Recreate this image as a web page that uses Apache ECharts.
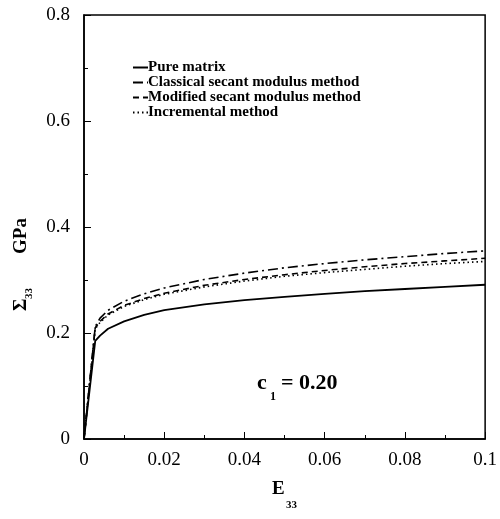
<!DOCTYPE html>
<html>
<head>
<meta charset="utf-8">
<script src="https://cdn.jsdelivr.net/npm/echarts@6/dist/echarts.min.js"></script>
<style>html,body{margin:0;padding:0;background:#fff}#c{width:500px;height:519px}</style>
</head>
<body>
<div id="c"></div>
<script>
const strain = [0, 0.0028, 0.004, 0.006, 0.01, 0.015, 0.02, 0.03, 0.04, 0.05, 0.06, 0.07, 0.08, 0.09, 0.1];
const pureMatrix = [0, 0.185, 0.195, 0.208, 0.222, 0.234, 0.243, 0.254, 0.262, 0.268, 0.274, 0.279, 0.283, 0.287, 0.291];
const classicalSecant = [0, 0.212, 0.228, 0.243, 0.26, 0.274, 0.285, 0.301, 0.313, 0.323, 0.331, 0.338, 0.344, 0.35, 0.355];
const modifiedSecant = [0, 0.21, 0.222, 0.236, 0.252, 0.265, 0.275, 0.29, 0.301, 0.31, 0.318, 0.325, 0.331, 0.336, 0.341];
const incremental = [0, 0.208, 0.22, 0.234, 0.25, 0.263, 0.273, 0.287, 0.298, 0.307, 0.314, 0.32, 0.326, 0.331, 0.335];
const seriesNames = ['Pure matrix', 'Classical secant modulus method', 'Modified secant modulus method', 'Incremental method'];
const xTickLabels = ['0', '0.02', '0.04', '0.06', '0.08', '0.1'];
const yTickLabels = ['0', '0.2', '0.4', '0.6', '0.8'];

const pair = (ys) => strain.map((x, i) => [x, ys[i]]);
const serif = 'Liberation Serif';
const chart = echarts.init(document.getElementById('c'), null, {renderer: 'canvas'});
const styles = [
  {type: 'solid', width: 1.8},
  {type: [10, 4, 2, 4], width: 1.6},
  {type: [6, 4], width: 1.6},
  {type: [1.5, 3], width: 1.6}
];
const data = [pureMatrix, classicalSecant, modifiedSecant, incremental];
chart.setOption({
  animation: false,
  backgroundColor: '#fff',
  grid: {left: 84, right: 14, top: 15, bottom: 80, show: true, borderColor: '#000', borderWidth: 1.5},
  legend: {
    orient: 'vertical', left: 127, top: 55, itemWidth: 15, itemHeight: 10, itemGap: 0,
    itemStyle: {opacity: 0},
    textStyle: {fontFamily: serif, fontWeight: 'bold', fontSize: 15, color: '#000', padding: [0, 0, 0, -5]},
    data: seriesNames
  },
  xAxis: {
    type: 'value', min: 0, max: 0.1, interval: 0.02,
    axisLine: {lineStyle: {color: '#000', width: 1.5}},
    axisTick: {inside: true, length: 7, lineStyle: {color: '#000'}},
    minorTick: {show: true, splitNumber: 2, length: 4, lineStyle: {color: '#000'}},
    splitLine: {show: false},
    axisLabel: {margin: 12, fontFamily: serif, fontSize: 19, color: '#000',
      formatter: (v) => xTickLabels[Math.round(v / 0.02)]}
  },
  yAxis: {
    type: 'value', min: 0, max: 0.8, interval: 0.2,
    axisLine: {lineStyle: {color: '#000', width: 1.5}},
    axisTick: {inside: true, length: 7, lineStyle: {color: '#000'}},
    minorTick: {show: true, splitNumber: 2, length: 4, lineStyle: {color: '#000'}},
    splitLine: {show: false},
    axisLabel: {margin: 14, fontFamily: serif, fontSize: 19, color: '#000',
      formatter: (v) => yTickLabels[Math.round(v / 0.2)]}
  },
  series: seriesNames.map((n, i) => ({
    name: n, type: 'line', data: pair(data[i]), symbol: 'none', smooth: false,
    lineStyle: Object.assign({color: '#000'}, styles[i]), itemStyle: {color: '#000'}
  })),
  graphic: [
    {type: 'group', x: 21, y: 265, rotation: Math.PI / 2, children: [
      {type: 'text', x: -46, y: 0, style: {text: 'Σ', fontFamily: serif, fontWeight: 'bold', fontSize: 19, fill: '#000', verticalAlign: 'middle'}},
      {type: 'text', x: -34, y: 8, style: {text: '33', fontFamily: serif, fontWeight: 'bold', fontSize: 11, fill: '#000', verticalAlign: 'middle'}},
      {type: 'text', x: 11, y: 0, style: {text: 'GPa', fontFamily: serif, fontWeight: 'bold', fontSize: 19, fill: '#000', verticalAlign: 'middle'}}
    ]},
    {type: 'text', x: 272, y: 489, style: {text: 'E', fontFamily: serif, fontWeight: 'bold', fontSize: 19, fill: '#000', verticalAlign: 'middle'}},
    {type: 'text', x: 286, y: 505, style: {text: '33', fontFamily: serif, fontWeight: 'bold', fontSize: 11, fill: '#000', verticalAlign: 'middle'}},
    {type: 'text', x: 257, y: 383, style: {text: 'c', fontFamily: serif, fontWeight: 'bold', fontSize: 22, fill: '#000', verticalAlign: 'middle'}},
    {type: 'text', x: 270, y: 397, style: {text: '1', fontFamily: serif, fontWeight: 'bold', fontSize: 12, fill: '#000', verticalAlign: 'middle'}},
    {type: 'text', x: 281, y: 383, style: {text: '= 0.20', fontFamily: serif, fontWeight: 'bold', fontSize: 22, fill: '#000', verticalAlign: 'middle'}}
  ]
});
</script>
</body>
</html>
